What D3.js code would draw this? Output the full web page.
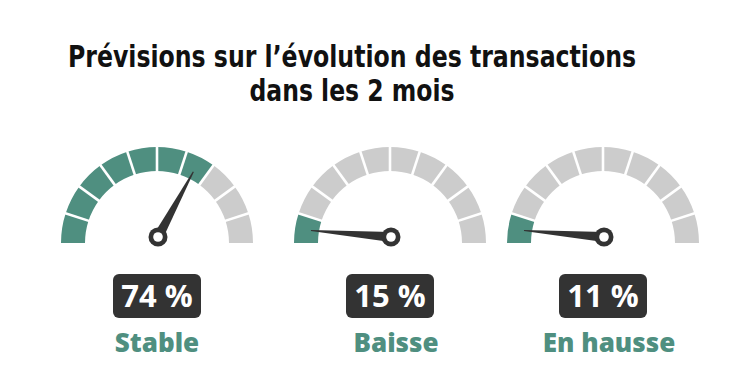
<!DOCTYPE html>
<html>
<head>
<meta charset="utf-8">
<script src="https://cdn.jsdelivr.net/npm/d3@7"></script>
<style>
  html, body { margin: 0; padding: 0; background: #ffffff; }
  svg { display: block; }
</style>
</head>
<body>
<svg id="chart" width="750" height="374"></svg>
<script>
// ---- data ----
const titleLines = ["Prévisions sur l’évolution des transactions", "dans les 2 mois"];
const categories = ["Stable", "Baisse", "En hausse"];
const values = [74, 15, 11];
const valueLabels = ["74 %", "15 %", "11 %"];
const segmentCount = 10;

// ---- style / layout ----
const W = 750, H = 374;
const teal = "#4f8f80", grey = "#cccccc", dark = "#333333";
const outerR = 96, innerR = 72;
const svg = d3.select("#chart");

// title
const title = svg.append("g");
const titleY = [67, 101];
const titleW = [568, 205];
titleLines.forEach((t, i) => {
  title.append("text")
    .attr("x", 352).attr("y", titleY[i])
    .attr("text-anchor", "middle")
    .attr("font-family", "'Liberation Sans Narrow', 'DejaVu Sans Condensed', 'Liberation Sans', sans-serif")
    .attr("font-weight", "bold")
    .attr("font-size", 30)
    .attr("fill", "#111111")
    .attr("textLength", titleW[i])
    .attr("lengthAdjust", "spacingAndGlyphs")
    .text(t);
});

// scales
const xPos = d3.scaleOrdinal().domain(categories).range([157, 390, 603]);
const cy = 243;
// gauge angle (d3 arc convention: 0 = up, clockwise)
const angle = d3.scaleLinear().domain([0, segmentCount]).range([-Math.PI / 2, Math.PI / 2]);

const arc = d3.arc().innerRadius(innerR).outerRadius(outerR);

categories.forEach((cat, gi) => {
  const cx = xPos(cat);
  const v = values[gi];
  const filled = Math.floor(v / 10);
  const g = svg.append("g").attr("transform", `translate(${cx},${cy})`);

  const segs = d3.range(segmentCount);
  g.selectAll("path.seg").data(segs).join("path")
    .attr("class", "seg")
    .attr("d", i => arc({ startAngle: angle(i), endAngle: angle(i + 1) }))
    .attr("fill", i => i < filled ? teal : grey);

  // white separators
  g.selectAll("line.sep").data(d3.range(1, segmentCount)).join("line")
    .attr("class", "sep")
    .attr("x1", i => (innerR - 2) * Math.sin(angle(i)))
    .attr("y1", i => -(innerR - 2) * Math.cos(angle(i)))
    .attr("x2", i => (outerR + 2) * Math.sin(angle(i)))
    .attr("y2", i => -(outerR + 2) * Math.cos(angle(i)))
    .attr("stroke", "#ffffff")
    .attr("stroke-width", 2.6);

  // needle: points to the middle of the last filled segment
  const a = angle(Math.max(filled, 1) - 0.5);
  const tipR = 80;
  const tip = [tipR * Math.sin(a), -tipR * Math.cos(a)];
  const hub = [1, -6];
  const dx = tip[0] - hub[0], dy = tip[1] - hub[1];
  const len = Math.hypot(dx, dy);
  const ux = dx / len, uy = dy / len;
  const px = -uy, py = ux;
  const baseW = 5, tipW = 0.6;
  const needle = [
    [hub[0] + px * baseW, hub[1] + py * baseW],
    [tip[0] + px * tipW, tip[1] + py * tipW],
    [tip[0] - px * tipW, tip[1] - py * tipW],
    [hub[0] - px * baseW, hub[1] - py * baseW]
  ];
  g.append("path")
    .attr("d", d3.line()(needle) + "Z")
    .attr("fill", dark);
  g.append("circle").attr("cx", hub[0]).attr("cy", hub[1]).attr("r", 9.5).attr("fill", dark);
  g.append("circle").attr("cx", hub[0]).attr("cy", hub[1]).attr("r", 4.8).attr("fill", "#ffffff");

  // badge
  const bw = 88, bh = 44, by = 274;
  svg.append("rect")
    .attr("x", cx - bw / 2).attr("y", by)
    .attr("width", bw).attr("height", bh)
    .attr("rx", 6).attr("ry", 6)
    .attr("fill", dark);
  svg.append("text")
    .attr("x", cx).attr("y", by + 33)
    .attr("text-anchor", "middle")
    .attr("font-family", "'Open Sans', 'Noto Sans', sans-serif")
    .attr("font-weight", "bold")
    .attr("font-size", 31)
    .attr("fill", "#ffffff")
    .text(valueLabels[gi]);

  // category label
  svg.append("text")
    .attr("x", cx + (gi === 0 ? 0 : 6)).attr("y", 352)
    .attr("text-anchor", "middle")
    .attr("font-family", "'Open Sans', 'Noto Sans', sans-serif")
    .attr("font-weight", 800)
    .attr("font-size", 26)
    .attr("fill", teal)
    .text(cat);
});
</script>
</body>
</html>
